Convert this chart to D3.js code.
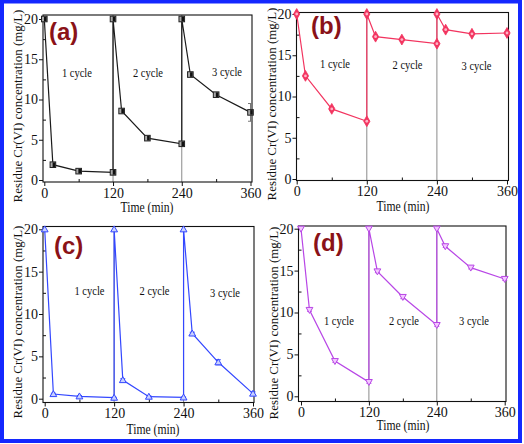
<!DOCTYPE html>
<html><head><meta charset="utf-8">
<script src="https://cdn.jsdelivr.net/npm/d3@7/dist/d3.min.js"></script>
<style>
html,body{margin:0;padding:0;background:#fff;}
svg{display:block;}
</style></head>
<body>
<script>
// ---------- data ----------
const times   = [0, 15, 60, 120, 120, 135, 180, 240, 240, 255, 300, 360];
const seriesA = [20, 1.9, 1.1, 0.95, 20, 8.57, 5.2, 4.5, 20, 13.1, 10.6, 8.4];
const errorA  = [0, 0.1, 0.1, 0.1, 0, 0.15, 0.15, 0.1, 0, 0.25, 0.2, 1.1];
const seriesB = [20, 12.5, 8.5, 7.0, 20, 17.25, 16.9, 16.4, 20, 18.1, 17.6, 17.7];
const errorB  = [0, 0.1, 0.15, 0.1, 0, 0.15, 0.1, 0.1, 0, 0.15, 0.1, 0.15];
const seriesC = [20, 0.55, 0.28, 0.12, 20, 2.2, 0.24, 0.15, 20, 7.7, 4.3, 0.6];
const errorC  = [0, 0.1, 0.1, 0.05, 0, 0.15, 0.1, 0.05, 0, 0.15, 0.3, 0.2];
const seriesD = [20, 10.3, 4.2, 1.7, 20, 14.9, 11.85, 8.5, 20, 17.9, 15.35, 14.0];
const errorD  = [0, 0.15, 0.15, 0.15, 0, 0.15, 0.2, 0.15, 0, 0.15, 0.15, 0.15];
const xTicks = [0, 120, 240, 360];
const xMinorTicks = [60, 180, 300];
const yTicks = [0, 5, 10, 15, 20];
const yMinorTicks = [2.5, 7.5, 12.5, 17.5];
const cycleLabels = ["1 cycle", "2 cycle", "3 cycle"];
const cycleBreaks = [120, 240];
const panelLabels = ["(a)", "(b)", "(c)", "(d)"];
const yTitle = "Residue Cr(VI) concentration (mg/L)";
const xTitle = "Time (min)";

const SERIF = "'Liberation Serif','Times New Roman',serif";
const SANS = "'Liberation Sans',Arial,sans-serif";

// ---------- layout ----------
const panels = [
  {lab:panelLabels[0], vals:seriesA, err:errorA, color:"#1a1a1a", sym:"square",
   xr:[44.3,250.5], yr:[180,19], f:{l:43,r:252,t:15,b:182},
   plab:[49,40], yl:[17,106], xl:[147,211.5],
   cyc:[[57,13.3],[181,13.3],[319,13.4]]},
  {lab:panelLabels[1], vals:seriesB, err:errorB, color:"#f2345f", sym:"diamond",
   xr:[296.7,507], yr:[179,14], f:{l:296.5,r:508.5,t:12.5,b:180.5},
   plab:[311,34], yl:[271,104], xl:[403,211],
   cyc:[[65.6,14.0],[189.7,13.8],[307.8,13.7]]},
  {lab:panelLabels[2], vals:seriesC, err:errorC, color:"#3347ff", sym:"triUp",
   xr:[44.7,253], yr:[398.7,229.3], f:{l:43,r:254,t:226.5,b:402.5},
   plab:[54,254], yl:[17.5,322], xl:[153,434],
   cyc:[[77.4,12.7],[189.8,12.8],[311.6,12.5]]},
  {lab:panelLabels[3], vals:seriesD, err:errorD, color:"#b846e6", sym:"triDown",
   xr:[301,504.7], yr:[396.3,228.7], f:{l:298.5,r:506,t:226,b:401.5},
   plab:[313,251], yl:[273,323], xl:[403,430],
   cyc:[[67,9.0],[182,9.0],[305.8,9.0]]}
];

const svg = d3.select("body").append("svg").attr("width",524).attr("height",444);
svg.append("rect").attr("x",0).attr("y",0).attr("width",524).attr("height",444).attr("fill","#fff");

// squeeze a text horizontally (along its own direction) to a target width
function squeezed(g, str, size, px, py, targetW, rot){
  const t = g.append("text").attr("x",0).attr("y",0).attr("text-anchor","middle")
    .style("font-family",SERIF).style("font-size",size+"px").style("fill","#111").text(str);
  const w = t.node().getComputedTextLength();
  const s = Math.min(1, targetW / w);
  t.attr("transform",`translate(${px},${py})${rot?" rotate(-90)":""} scale(${s},1)`);
  return t;
}

panels.forEach(p=>{
  const x = d3.scaleLinear().domain([0,360]).range(p.xr);
  const y = d3.scaleLinear().domain([0,20]).range(p.yr);
  const g = svg.append("g");
  const f = p.f;

  // cycle separators
  cycleBreaks.forEach(t=>{
    g.append("line").attr("x1",x(t)).attr("x2",x(t)).attr("y1",f.b).attr("y2",f.t)
      .attr("stroke","#8a8a8a").attr("stroke-width",1);
  });

  // frame
  g.append("rect").attr("x",f.l).attr("y",f.t).attr("width",f.r-f.l).attr("height",f.b-f.t)
    .attr("fill","none").attr("stroke","#111").attr("stroke-width",1.1);

  // axes
  const ax = g.append("g").attr("transform",`translate(0,${f.b})`)
    .call(d3.axisBottom(x).tickValues(xTicks).tickSize(4).tickPadding(2));
  const axm = g.append("g").attr("transform",`translate(0,${f.b})`)
    .call(d3.axisBottom(x).tickValues(xMinorTicks).tickSize(-3).tickFormat(""));
  const ay = g.append("g").attr("transform",`translate(${f.l},0)`)
    .call(d3.axisLeft(y).tickValues(yTicks).tickSize(4).tickPadding(1));
  const aym = g.append("g").attr("transform",`translate(${f.l},0)`)
    .call(d3.axisLeft(y).tickValues(yMinorTicks).tickSize(-3).tickFormat(""));
  [ax,axm,ay,aym].forEach(a=>{
    a.select(".domain").remove();
    a.selectAll("line").attr("stroke","#111").attr("stroke-width",1);
    a.selectAll("text").style("font-family",SERIF).style("font-size","14px").style("fill","#111");
  });

  // data line
  const pts = times.map((t,i)=>({t, v:p.vals[i], e:p.err[i]}));
  g.append("path").datum(pts)
    .attr("d", d3.line().x(d=>x(d.t)).y(d=>y(d.v)))
    .attr("fill","none").attr("stroke",p.color).attr("stroke-width",1.2);

  // error bars
  const ec = p.sym==="square"?"#777":p.color;
  pts.filter(d=>d.e>0).forEach(d=>{
    const cx=x(d.t);
    g.append("line").attr("x1",cx).attr("x2",cx).attr("y1",y(d.v-d.e)).attr("y2",y(d.v+d.e))
      .attr("stroke",ec).attr("stroke-width",1);
    [d.v-d.e,d.v+d.e].forEach(vv=>{
      g.append("line").attr("x1",cx-2.5).attr("x2",cx+2.5).attr("y1",y(vv)).attr("y2",y(vv))
        .attr("stroke",ec).attr("stroke-width",1);
    });
  });

  // markers
  pts.forEach(d=>{
    const cx=x(d.t), cy=y(d.v);
    if(p.sym==="square"){
      g.append("rect").attr("x",cx-2.8).attr("y",cy-2.8).attr("width",5.6).attr("height",5.6)
        .attr("fill","#a8a8a8").attr("stroke","#222").attr("stroke-width",1);
      g.append("rect").attr("x",cx-0.3).attr("y",cy-2.3).attr("width",2.6).attr("height",4.6)
        .attr("fill","#111");
    } else if(p.sym==="diamond"){
      g.append("path").attr("transform",`translate(${cx},${cy})`)
        .attr("d",d3.symbol().type(d3.symbolDiamond).size(34)())
        .attr("fill",p.color).attr("stroke",p.color).attr("stroke-width",0.8);
      g.append("circle").attr("cx",cx).attr("cy",cy).attr("r",1.4).attr("fill","#ffb3c6");
    } else {
      const s = 3.4;
      const dpath = p.sym==="triUp"
        ? `M${cx},${cy-s}L${cx+s},${cy+s*0.75}L${cx-s},${cy+s*0.75}Z`
        : `M${cx},${cy+s}L${cx+s},${cy-s*0.75}L${cx-s},${cy-s*0.75}Z`;
      g.append("path").attr("d",dpath)
        .attr("fill",p.sym==="triUp"?"#c9d1ff":"#f3c8ff").attr("stroke",p.color).attr("stroke-width",1);
    }
  });

  // cycle labels
  p.cyc.forEach((c,i)=>{
    squeezed(g, cycleLabels[i], 12.5, x(c[0]), y(c[1]) + 4.3, 30, false);
  });

  // panel label
  g.append("text").attr("x",p.plab[0]).attr("y",p.plab[1])
    .style("font-family",SANS).style("font-weight","bold")
    .style("font-size","24px").style("fill","#8a1218").text(p.lab);

  // axis titles
  squeezed(g, yTitle, 13.5, p.yl[0] + 4.7, p.yl[1], 193, true);
  squeezed(g, xTitle, 15, p.xl[0], p.xl[1], 53, false);
});

// outer blue border
svg.append("rect").attr("x",2).attr("y",1.5).attr("width",518).attr("height",439.5)
  .attr("fill","none").attr("stroke","#1428ff").attr("stroke-width",4);
</script>
</body></html>
